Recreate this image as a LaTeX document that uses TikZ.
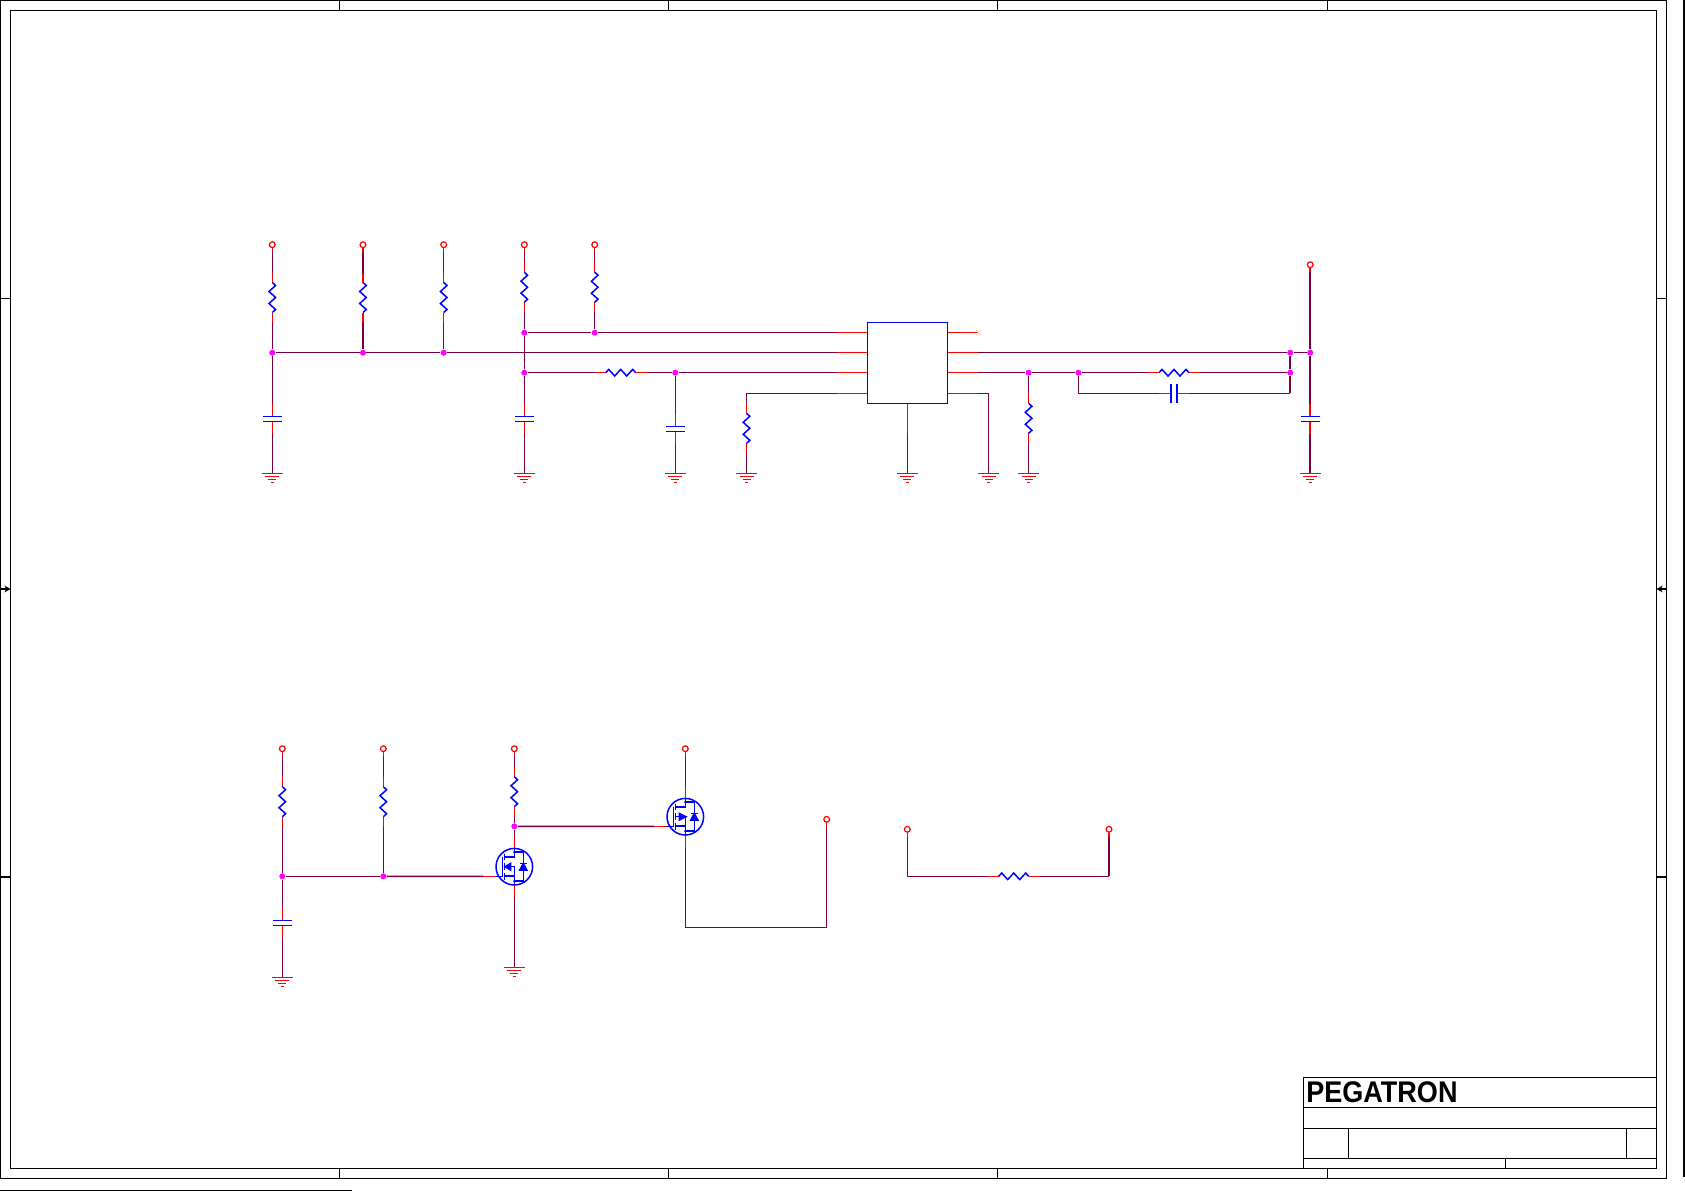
\documentclass[tikz,border=0pt]{standalone}
\usepackage{fontspec}
\usetikzlibrary{arrows.meta,positioning}
\newfontfamily\logofont{Liberation Sans}

\begin{document}
\begin{tikzpicture}[x=0.02cm,y=-0.02cm]
\definecolor{netcol}{HTML}{7A0040}
\definecolor{juncol}{RGB}{255,0,255}
\tikzset{wire/.style={draw=netcol,line width=0.9pt}}
\tikzset{pinline/.style={draw=red,line width=0.9pt}}
\tikzset{body/.style={draw=blue,line width=0.85pt}}
\tikzset{frameline/.style={draw=black,line width=0.85pt}}
\tikzset{port/.style={circle,draw=red,line width=0.7pt,inner sep=0pt,minimum size=0.115cm}}
\tikzset{junc/.style={circle,fill=juncol,inner sep=0pt,minimum size=0.12cm}}
\tikzset{chip/.style={rectangle,body,inner sep=0pt,minimum width=1.61cm,minimum height=1.62cm}}
\tikzset{logo/.style={anchor=west,inner sep=0pt,font=\logofont\bfseries\fontsize{17}{17}\selectfont}}
% parts, all sizes in reference pixels
\tikzset{pics/rv/.style={code={
  \coordinate (-a) at (0,-25); \coordinate (-b) at (0,25);
  \draw[pinline] (0,-25) -- (0,-15) (0,15) -- (0,25);
  \draw[body] (0,-15) -- (3.3,-12) -- (-3.3,-6) -- (3.3,0) -- (-3.3,6) -- (3.3,12) -- (0,15);
}}}
\tikzset{pics/rh/.style={code={
  \coordinate (-a) at (-26,0); \coordinate (-b) at (26,0);
  \draw[pinline] (-26,0) -- (-15,0) (15,0) -- (26,0);
  \draw[body] (-15,0) -- (-12,-3.3) -- (-6,3.3) -- (0,-3.3) -- (6,3.3) -- (12,-3.3) -- (15,0);
}}}
\tikzset{pics/cv/.style={code={
  \coordinate (-a) at (0,-15); \coordinate (-b) at (0,15);
  \draw[pinline] (0,-15) -- (0,-2.5) (0,2.5) -- (0,15);
  \draw[body] (-9.5,-2.5) -- (9.5,-2.5) (-9.5,2.5) -- (9.5,2.5);
}}}
\tikzset{pics/ch/.style={code={
  \coordinate (-a) at (-15,0); \coordinate (-b) at (15,0);
  \draw[pinline] (-15,0) -- (-3,0) (3,0) -- (15,0);
  \draw[body] (-3,-9.5) -- (-3,9.5) (3,-9.5) -- (3,9.5);
}}}
\tikzset{pics/gnd/.style={code={
  \coordinate (-t) at (0,0);
  \draw[pinline] (-10.5,0) -- (10.5,0) (-7,3.3) -- (7,3.3) (-4,6.3) -- (4,6.3) (-1.5,9) -- (1.5,9);
}}}
\tikzset{pics/mos/.style 2 args={code={
  \coordinate (-g) at (-31,9.6); \coordinate (-d) at (0,-30); \coordinate (-s) at (0,30);
  \draw[pinline] (-31,9.6) -- (-18,9.6) (0,-30) -- (0,-18.3) (0,18.3) -- (0,30);
  \draw[body] (0,0) circle (18.3);
  \draw[body] (-12,-10) -- (-12,10) (-18,9.6) -- (-12,9.6);
  \draw[body] (-10,-13) -- (-10,-6.5) (-10,-3.3) -- (-10,3.3) (-10,6.5) -- (-10,13);
  \draw[body] (-10,-9.5) -- (0,-9.5) -- (0,-18.3) (-10,0) -- (0,0) -- (0,18.3) (-10,9.5) -- (0,9.5);
  \draw[body] (0,-14.5) -- (9,-14.5) -- (9,14.5) -- (0,14.5);
  \draw[body] (5.5,-3.3) -- (12.5,-3.3);
  \filldraw[body,fill=blue] (9,-3.3) -- (12.5,3.3) -- (5.5,3.3) -- cycle;
  \filldraw[body,fill=blue] (#1,0) -- (#2,-3.3) -- (#2,3.3) -- cycle;
  \fill[blue] (0,-14.5) circle (1.3) (0,14.5) circle (1.3);
}}}

\useasboundingbox (0,0) rectangle (1685,1191);

% sheet border
\draw[frameline] (0.7,0.7) rectangle (1666.4,1178.3);
\draw[frameline] (10.7,10.3) rectangle (1656.4,1168.3);
\foreach \tx in {339.4,668.4,997.3,1327.3} {
  \draw[frameline] (\tx,0.7) -- (\tx,10.3);
  \draw[frameline] (\tx,1168.3) -- (\tx,1178.3);
}
\foreach \ty in {298.7,876.9} {
  \draw[frameline] (0.7,\ty) -- (10.7,\ty);
  \draw[frameline] (1656.4,\ty) -- (1666.4,\ty);
}
\draw[frameline,-{Stealth[length=3.6pt,width=3.8pt]}] (0.7,589) -- (10.7,589);
\draw[frameline,-{Stealth[length=3.6pt,width=3.8pt]}] (1666.4,589) -- (1656.4,589);
\draw[frameline] (0,1190.3) -- (352,1190.3);
\draw[frameline] (1684,0) -- (1684,1177);

% title block
\draw[frameline] (1303.7,1077.3) rectangle (1656.4,1168.3);
\draw[frameline] (1303.7,1107.3) -- (1656.4,1107.3);
\draw[frameline] (1303.7,1128.7) -- (1656.4,1128.7);
\draw[frameline] (1303.7,1158.3) -- (1656.4,1158.3);
\draw[frameline] (1348.7,1128.7) -- (1348.7,1158.3);
\draw[frameline] (1626.7,1128.7) -- (1626.7,1158.3);
\draw[frameline] (1505.3,1158.3) -- (1505.3,1168.3);
\node [logo] (Logo) at (1306,1092.5) {\scalebox{0.905}[1]{PEGATRON}};

% ports
\node [port] (P1) at (272.3,244.7) {};
\node [port] (P2) at (363,244.7) {};
\node [port] (P3) at (443.7,244.7) {};
\node [port] (P4) at (524.3,244.7) {};
\node [port] (P5) at (594.7,244.7) {};
\node [port] (P6) at (1310.2,264.7) {};
\node [port] (P7) at (282.3,748.7) {};
\node [port] (P8) at (383.3,748.7) {};
\node [port] (P9) at (514.3,748.7) {};
\node [port] (P10) at (685.3,748.7) {};
\node [port] (P11) at (826.7,819.3) {};
\node [port] (P12) at (907.3,829.3) {};
\node [port] (P13) at (1109,829.3) {};

% junctions
\node [junc] (J1) at (272.3,352.7) {};
\node [junc] (J2) at (363,352.7) {};
\node [junc] (J3) at (443.7,352.7) {};
\node [junc] (J4) at (524.3,332.7) {};
\node [junc] (J5) at (594.7,332.7) {};
\node [junc] (J6) at (524.3,372.7) {};
\node [junc] (J7) at (675.3,372.7) {};
\node [junc] (J8) at (1028.6,372.7) {};
\node [junc] (J9) at (1078.4,372.7) {};
\node [junc] (J10) at (1290.2,352.7) {};
\node [junc] (J11) at (1290.2,372.7) {};
\node [junc] (J12) at (1310.2,352.7) {};
\node [junc] (J13) at (282.3,876.3) {};
\node [junc] (J14) at (383.3,876.3) {};
\node [junc] (J15) at (514.3,826.3) {};

% corners
\coordinate (K1) at (746.5,393.3);
\coordinate (K2) at (1078.4,393.3);
\coordinate (K3) at (1290.2,393.3);
\coordinate (K4) at (988.6,393.3);
\coordinate (K5) at (685.3,927.3);
\coordinate (K6) at (826.7,927.3);
\coordinate (K7) at (907.3,876.3);
\coordinate (K8) at (1109,876.3);

% parts
\pic (R1) at (272.3,297.5) {rv};
\pic (R2) at (363,297.5) {rv};
\pic (R3) at (443.7,297.5) {rv};
\pic (R4) at (524.3,287.2) {rv};
\pic (R5) at (594.7,287.2) {rv};
\pic (R6) at (746.5,428.3) {rv};
\pic (R7) at (1028.6,418.3) {rv};
\pic (R8) at (620.7,372.7) {rh};
\pic (R9) at (1174,372.7) {rh};
\pic (R10) at (282.3,801.7) {rv};
\pic (R11) at (383.3,801.7) {rv};
\pic (R12) at (514.3,791.7) {rv};
\pic (R13) at (1013.7,876.3) {rh};
\pic (C1) at (272.3,419) {cv};
\pic (C2) at (524.3,419) {cv};
\pic (C3) at (675.3,429) {cv};
\pic (C4) at (1310.2,419) {cv};
\pic (C5) at (1174,393.3) {ch};
\pic (C6) at (282.3,923) {cv};
\pic (G1) at (272.3,473.3) {gnd};
\pic (G2) at (524.3,473.3) {gnd};
\pic (G3) at (675.3,473.3) {gnd};
\pic (G4) at (746.5,473.3) {gnd};
\pic (G5) at (907.3,473.3) {gnd};
\pic (G6) at (988.6,473.3) {gnd};
\pic (G7) at (1028.6,473.3) {gnd};
\pic (G8) at (1310.2,473.3) {gnd};
\pic (G9) at (282.3,977.3) {gnd};
\pic (G10) at (514.3,967.3) {gnd};
\pic (Q1) at (514.3,866.7) {mos={-9.3}{-3.7}};
\pic (Q2) at (685.3,816.7) {mos={0.7}{-6}};

% chip and its pins
\node [chip] (U1) at (907.5,362.8) {};
\coordinate (U1a) at (836.7,332.7);
\coordinate (U1b) at (836.7,352.7);
\coordinate (U1c) at (836.7,372.7);
\coordinate (U1d) at (836.7,393.3);
\coordinate (U1e) at (978.4,332.7);
\coordinate (U1f) at (978.4,352.7);
\coordinate (U1g) at (978.4,372.7);
\coordinate (U1h) at (978.4,393.3);
\coordinate (U1s) at (907.3,433);
\foreach \pa in {U1a,U1b,U1c,U1d}
  \path (\pa) edge[pinline] (\pa -| U1.west);
\foreach \pa in {U1e,U1f,U1g,U1h}
  \path (\pa) edge[pinline] (\pa -| U1.east);
\path (U1s) edge[pinline] (U1s |- U1.south);
\draw[draw=red!20!orange!30,line width=0.5pt] (975.9,330.2) -- (980.9,335.2) (975.9,335.2) -- (980.9,330.2);

% nets
\begin{scope}[every edge/.style={wire,draw}]
\path (P1) edge (R1-a);
\path (R1-b) edge (J1);
\path (J1) edge (C1-a);
\path (C1-b) edge (G1-t);
\path (P2) edge (R2-a);
\path (R2-b) edge (J2);
\path (P3) edge (R3-a);
\path (R3-b) edge (J3);
\path (P4) edge (R4-a);
\path (R4-b) edge (J4);
\path (J4) edge (J6);
\path (J6) edge (C2-a);
\path (C2-b) edge (G2-t);
\path (P5) edge (R5-a);
\path (R5-b) edge (J5);
\path (J4) edge (J5);
\path (J5) edge (U1a);
\path (J1) edge (J2);
\path (J2) edge (J3);
\path (J3) edge (U1b);
\path (J6) edge (R8-a);
\path (R8-b) edge (J7);
\path (J7) edge (U1c);
\path (J7) edge (C3-a);
\path (C3-b) edge (G3-t);
\path (U1d) edge (K1);
\path (K1) edge (R6-a);
\path (R6-b) edge (G4-t);
\path (U1s) edge (G5-t);
\path (U1f) edge (J10);
\path (J10) edge (J12);
\path (U1g) edge (J8);
\path (J8) edge (J9);
\path (J9) edge (R9-a);
\path (R9-b) edge (J11);
\path (J11) edge (J10);
\path (J9) edge (K2);
\path (K2) edge (C5-a);
\path (C5-b) edge (K3);
\path (K3) edge (J11);
\path (U1h) edge (K4);
\path (K4) edge (G6-t);
\path (J8) edge (R7-a);
\path (R7-b) edge (G7-t);
\path (P6) edge (J12);
\path (J12) edge (C4-a);
\path (C4-b) edge (G8-t);
\path (P7) edge (R10-a);
\path (R10-b) edge (J13);
\path (J13) edge (C6-a);
\path (C6-b) edge (G9-t);
\path (J13) edge (J14);
\path (P8) edge (R11-a);
\path (R11-b) edge (J14);
\path (J14) edge (Q1-g);
\path (P9) edge (R12-a);
\path (R12-b) edge (J15);
\path (J15) edge (Q1-d);
\path (Q1-s) edge (G10-t);
\path (J15) edge (Q2-g);
\path (P10) edge (Q2-d);
\path (Q2-s) edge (K5);
\path (K5) edge (K6);
\path (K6) edge (P11);
\path (P12) edge (K7);
\path (K7) edge (R13-a);
\path (R13-b) edge (K8);
\path (K8) edge (P13);
\end{scope}

\foreach \pa in {P1,P2,P3,P4,P5,P6,P7,P8,P9,P10,P11,P12,P13}
  \path (\pa.south) edge[pinline] +(0,4);
\end{tikzpicture}
\end{document}
